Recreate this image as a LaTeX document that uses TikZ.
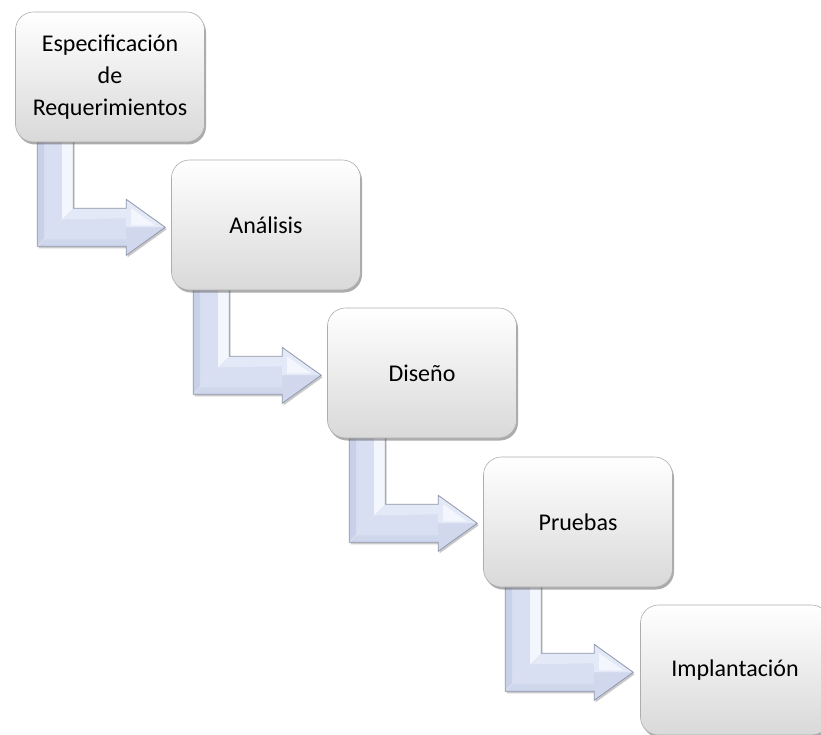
\documentclass[tikz,border=0pt]{standalone}
\usepackage{fontspec}
\setmainfont{Carlito}
\usetikzlibrary{calc,shadows}
\pgfdeclarelayer{background}
\pgfsetlayers{background,main}

% colours of the bevelled block arrows
\definecolor{arrowface}{HTML}{D8DFF2}
\definecolor{arrowdark}{HTML}{C9D1E8}
\definecolor{arrowlight}{HTML}{F3F6FC}
\definecolor{arrowmid}{HTML}{E3E9F7}
\definecolor{arrowedge}{HTML}{9197AC}

% bent block arrow that leaves the bottom of a box and points right;
% local units are pixels, origin at the south-west corner of the box
\newcommand\stagearrow[1]{%
  \begin{scope}[shift={(#1.south west)}]
    \fill[arrowface, drop shadow={shadow xshift=1.5pt, shadow yshift=-2pt, opacity=0.3, fill=black!70}]
      (22,-10) -- (22,104) -- (111,104) -- (111,113) -- (150,85) -- (111,57)
      -- (111,66) -- (58,66) -- (58,-10) -- cycle;
    % bevel facets
    \fill[arrowdark] (22,-10) -- (29,-10) -- (29,97) -- (22,104) -- cycle;
    \fill[arrowdark!60!arrowface] (22,104) -- (29,97) -- (111,97) -- (111,104) -- cycle;
    \fill[arrowlight] (47,-10) -- (58,-10) -- (58,66) -- (47,77) -- cycle;
    \fill[arrowmid] (47,77) -- (58,66) -- (111,66) -- (111,76) -- cycle;
    \fill[arrowmid] (111,57) -- (150,85) -- (111,85) -- cycle;
    \fill[arrowlight] (116,66) -- (140,83) -- (116,83) -- cycle;
    \fill[arrowdark!50!arrowface] (111,113) -- (150,85) -- (111,85) -- cycle;
    \draw[white!75!arrowedge, line width=0.5pt] (22,104) -- (47,77);
    \draw[arrowedge, line width=0.8pt, line join=miter]
      (22,-10) -- (22,104) -- (111,104) -- (111,113) -- (150,85) -- (111,57)
      -- (111,66) -- (58,66) -- (58,-10);
  \end{scope}%
}

\begin{document}
\begin{tikzpicture}[x=1pt, y=-1pt,
  stagebox/.style={rectangle, rounded corners=18pt,
    minimum width=189pt, minimum height=130pt, inner sep=0pt,
    draw=black!32, line width=0.6pt,
    top color=white, bottom color=black!15,
    drop shadow={shadow xshift=1.5pt, shadow yshift=-2.5pt, opacity=0.5, fill=black!65},
    align=center, font=\fontsize{24}{32}\selectfont}]
  \useasboundingbox (0,0) rectangle (821,735);
  \clip (0,0) rectangle (821,735);

  \node[stagebox] (spec) at (110,77)  {Especificación\\de\\Requerimientos};
  \node[stagebox] (anal) at (266,225) {Análisis};
  \node[stagebox] (dise) at (422,373) {Diseño};
  \node[stagebox] (prue) at (578,522) {Pruebas};
  \node[stagebox] (impl) at (735,670) {Implantación};

  \begin{pgfonlayer}{background}
    \stagearrow{spec}
    \stagearrow{anal}
    \stagearrow{dise}
    \stagearrow{prue}
  \end{pgfonlayer}
\end{tikzpicture}
\end{document}
